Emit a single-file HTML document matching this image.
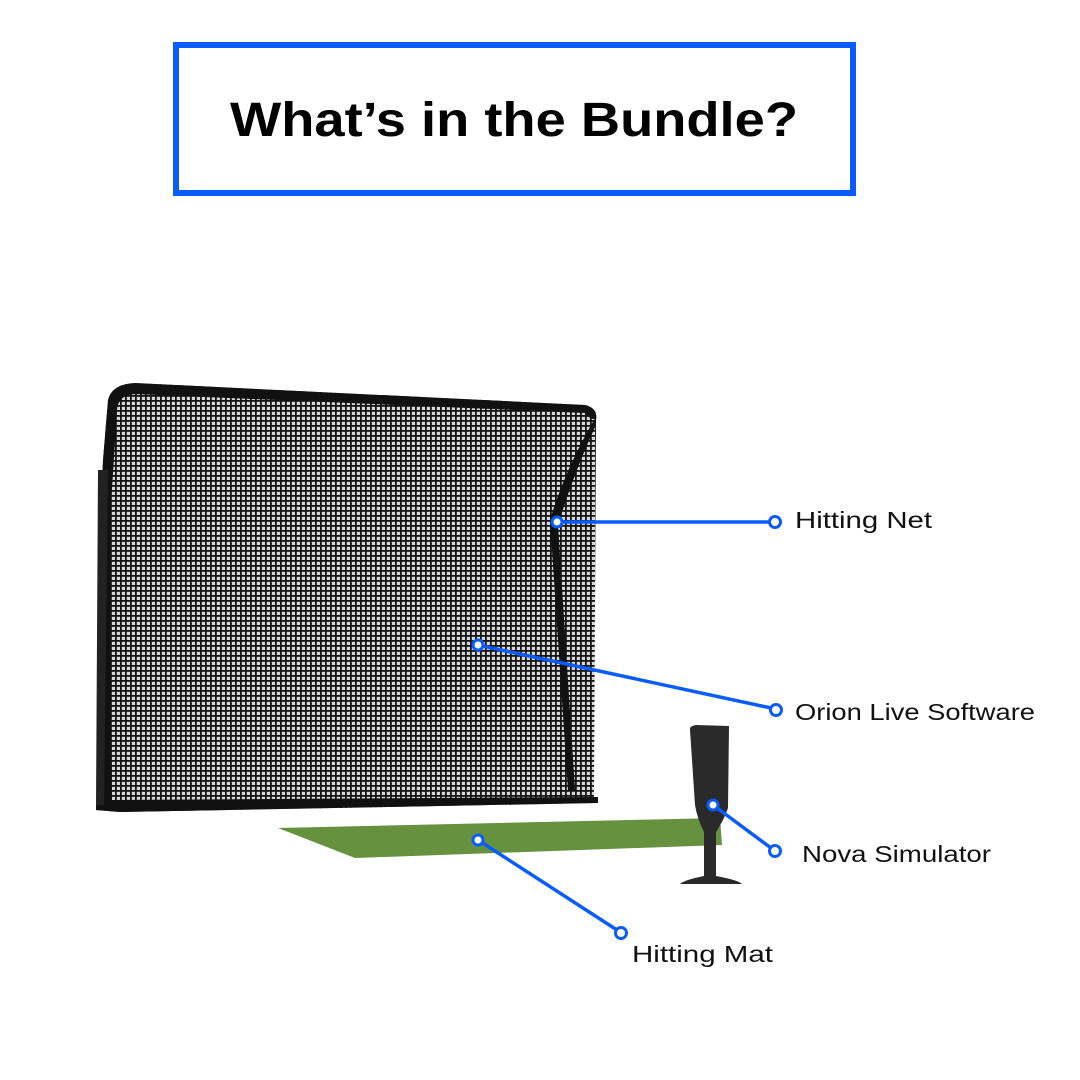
<!DOCTYPE html>
<html><head><meta charset="utf-8"><style>
body{margin:0;background:#fff;}
svg{display:block}
</style></head><body>
<svg width="1080" height="1080" viewBox="0 0 1080 1080" xmlns="http://www.w3.org/2000/svg">
<defs>
<pattern id="mesh" width="5" height="5" patternUnits="userSpaceOnUse">
<rect width="5" height="5" fill="#d8d8d8"/>
<rect width="5" height="1.8" fill="#141414"/>
<rect width="1.8" height="5" fill="#141414"/>
</pattern>
</defs>
<rect x="176" y="45" width="677" height="148" fill="#fff" stroke="#0a5cff" stroke-width="6"/>
<text x="230" y="136" textLength="568" lengthAdjust="spacingAndGlyphs" font-family="Liberation Sans, sans-serif" font-weight="bold" font-size="48" fill="#000">What’s in the Bundle?</text>

<!-- net -->
<path d="M108,400 Q112,384 135,383 L585,405 Q598,408 596,420 L594,800 L598,803 L120,812 L96,810 L100,700 L98,560 L103,460 Z" fill="url(#mesh)"/>
<path d="M108,400 Q112,384 135,383 L585,405 Q598,408 596,420 L590,418 L585,413 L135,394 Q118,395 117,410 L110,520 L112,800 L598,797 L598,803 L120,812 L96,810 L100,700 L98,560 L103,460 Z" fill="#111"/>
<path d="M594,420 Q565,470 550,520 L568,790 L575,790 L558,525 Q575,470 596,425 Z" fill="#111"/>
<path d="M98,470 L96,805 L104,805 L108,470 Z" fill="#222"/>

<!-- mat -->
<polygon points="278,828 720,818 722,845 355,858" fill="#66913f"/>

<!-- simulator -->
<path d="M690,730 Q689,726 696,725 L729,726 L728,808 Q724,820 716,832 L716,876 Q738,880 742,884 L680,884 Q684,880 704,876 L704,832 Q697,818 695,805 Z" fill="#2a2a2a"/>

<g stroke="#0a5cff" stroke-width="3.5" fill="none">
<line x1="557" y1="522" x2="770" y2="522"/>
<line x1="478" y1="645" x2="771" y2="708"/>
<line x1="713" y1="805" x2="771" y2="848"/>
<line x1="478" y1="840" x2="617" y2="930"/>
</g>
<g stroke="#0a5cff" stroke-width="3" fill="#fff">
<circle cx="557" cy="522" r="5"/><circle cx="775" cy="522" r="5.5"/>
<circle cx="478" cy="645" r="5"/><circle cx="776" cy="710" r="5.5"/>
<circle cx="713" cy="805" r="5"/><circle cx="775" cy="851" r="5.5"/>
<circle cx="478" cy="840" r="5"/><circle cx="621" cy="933" r="5.5"/>
</g>
<g font-family="Liberation Sans, sans-serif" font-size="23" fill="#111" lengthAdjust="spacingAndGlyphs">
<text x="795" y="528" textLength="137" lengthAdjust="spacingAndGlyphs">Hitting Net</text>
<text x="795" y="720" textLength="240" lengthAdjust="spacingAndGlyphs">Orion Live Software</text>
<text x="802" y="862" textLength="189" lengthAdjust="spacingAndGlyphs">Nova Simulator</text>
<text x="632" y="962" textLength="141" lengthAdjust="spacingAndGlyphs">Hitting Mat</text>
</g>
</svg>
</body></html>
